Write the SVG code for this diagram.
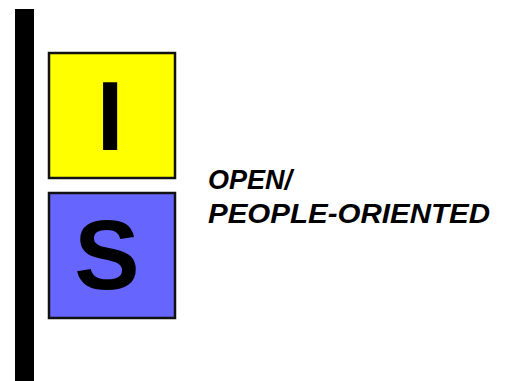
<svg xmlns="http://www.w3.org/2000/svg" width="506" height="381" viewBox="0 0 506 381">
<style>
.box{stroke:#111;stroke-width:2.5}
.big{font-family:"Liberation Sans",Arial,sans-serif;font-weight:bold;fill:#000;text-anchor:middle}
.lbl{font-family:"Liberation Sans",Arial,sans-serif;font-weight:bold;font-style:italic;font-size:27px;fill:#000}
</style>
<rect x="0" y="0" width="506" height="381" fill="#fff"/>
<rect id="bar" x="15" y="9" width="19" height="372" fill="#000"/>
<g id="node-I">
<rect class="box" x="49" y="53" width="126" height="125" fill="#ffff00"/>
<text class="big" x="110" y="150" font-size="98">I</text>
</g>
<g id="node-S">
<rect class="box" x="49" y="193" width="126" height="125" fill="#6666ff"/>
<text class="big" x="107" y="289" font-size="98">S</text>
</g>
<g id="label">
<text class="lbl" x="208" y="189">OPEN/</text>
<text class="lbl" x="208" y="223" textLength="282" lengthAdjust="spacingAndGlyphs">PEOPLE-ORIENTED</text>
</g>
<g id="connectors"></g>
</svg>
